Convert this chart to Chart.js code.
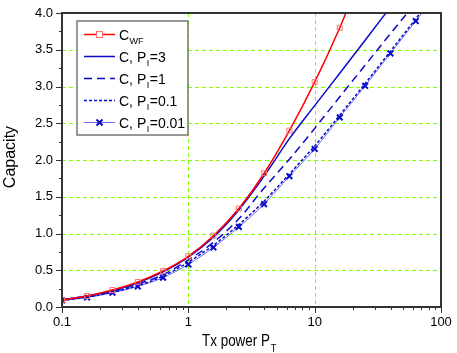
<!DOCTYPE html>
<html>
<head>
<meta charset="utf-8">
<script src="https://cdn.jsdelivr.net/npm/chart.js@4.4.1/dist/chart.umd.min.js"></script>
<style>
  html, body { margin: 0; padding: 0; background: #fff; }
  #wrap { position: relative; width: 457px; height: 353px; }
</style>
</head>
<body>
<div id="wrap"><canvas id="myChart" width="457" height="353"></canvas></div>
<script>
// Potencias de transmisión (eje x, logarítmico)
const txPower = [0.1, 0.158, 0.251, 0.398, 0.631, 1, 1.58, 2.51, 3.98, 6.31, 10, 15.8, 25.1, 39.8, 63.1, 100];

// Capacidades
const capWF   = [0.095, 0.15, 0.23, 0.34, 0.49, 0.69, 0.97, 1.34, 1.82, 2.40, 3.06, 3.80, 4.65];
const capPI3  = [0.10, 0.15, 0.22, 0.33, 0.48, 0.68, 0.95, 1.32, 1.78, 2.29, 2.74, 3.18, 3.63, 4.08];
const capPI1  = [0.095, 0.14, 0.21, 0.31, 0.44, 0.64, 0.88, 1.20, 1.62, 2.01, 2.43, 2.86, 3.29, 3.72, 4.14];
const capPI01 = [0.09, 0.135, 0.20, 0.29, 0.42, 0.61, 0.84, 1.12, 1.44, 1.81, 2.19, 2.61, 3.04, 3.48, 3.92, 4.37];
const capPI001 = [0.09, 0.13, 0.195, 0.28, 0.40, 0.58, 0.81, 1.09, 1.40, 1.78, 2.15, 2.58, 3.01, 3.45, 3.89, 4.33];

// Etiquetas de los ejes
const xTicks = [0.1, 1, 10, 100];
const xTickLabels = ['0.1', '1', '10', '100'];
const yTicks = [0, 0.5, 1, 1.5, 2, 2.5, 3, 3.5, 4];
const yTickLabels = ['0.0', '0.5', '1.0', '1.5', '2.0', '2.5', '3.0', '3.5', '4.0'];
const xGridAt = [1, 10];
const yGridAt = [0.5, 1, 1.5, 2, 2.5, 3, 3.5];

// Leyenda: [texto, subíndice, resto]
const legendNames = [
  ['C', 'WF', ''],
  ['C, P', 'I', '=3'],
  ['C, P', 'I', '=1'],
  ['C, P', 'I', '=0.1'],
  ['C, P', 'I', '=0.01']
];

const FONT = 'Arial, "Liberation Sans", sans-serif';
const GREEN = '#80ff00';
const BLUE = '#0a0ac8';

function pts(values) {
  return values.map((v, i) => ({ x: txPower[i], y: v }));
}

// Dibujar una cruz (marcador x)
function drawCross(ctx, x, y, r) {
  ctx.beginPath();
  ctx.moveTo(x - r, y - r); ctx.lineTo(x + r, y + r);
  ctx.moveTo(x - r, y + r); ctx.lineTo(x + r, y - r);
  ctx.stroke();
}

// Plugin: rejilla, marco, marcas, etiquetas, títulos y leyenda
const framePlugin = {
  id: 'frame',
  beforeDatasetsDraw(chart) {
    const { ctx, chartArea: a, scales } = chart;
    ctx.save();
    ctx.strokeStyle = GREEN;
    ctx.lineWidth = 1;
    ctx.setLineDash([4, 3]);
    xGridAt.forEach(v => {
      const x = Math.round(scales.x.getPixelForValue(v)) + 0.5;
      ctx.beginPath(); ctx.moveTo(x, a.top); ctx.lineTo(x, a.bottom); ctx.stroke();
    });
    yGridAt.forEach(v => {
      const y = Math.round(scales.y.getPixelForValue(v)) + 0.5;
      ctx.beginPath(); ctx.moveTo(a.left, y); ctx.lineTo(a.right, y); ctx.stroke();
    });
    ctx.restore();
  },
  afterDatasetsDraw(chart) {
    const { ctx, chartArea: a, scales } = chart;
    ctx.save();
    // marco
    ctx.strokeStyle = '#333';
    ctx.lineWidth = 2;
    ctx.strokeRect(a.left, a.top, a.right - a.left, a.bottom - a.top);

    // marcas del eje x (mayores y menores)
    ctx.lineWidth = 1;
    for (let d = -1; d < 2; d++) {
      for (let m = 1; m <= 10; m++) {
        const v = m * Math.pow(10, d);
        const x = Math.round(scales.x.getPixelForValue(v)) + 0.5;
        const len = (m === 1 || m === 10) ? 6 : 3;
        ctx.beginPath(); ctx.moveTo(x, a.bottom); ctx.lineTo(x, a.bottom + len); ctx.stroke();
      }
    }
    // marcas del eje y
    for (let v = 0; v <= 4.001; v += 0.25) {
      const y = Math.round(scales.y.getPixelForValue(v)) + 0.5;
      const major = Math.abs(v * 2 - Math.round(v * 2)) < 1e-6;
      ctx.beginPath(); ctx.moveTo(a.left, y); ctx.lineTo(a.left - (major ? 6 : 3), y); ctx.stroke();
    }

    // etiquetas
    ctx.fillStyle = '#000';
    ctx.font = '13px ' + FONT;
    ctx.textAlign = 'center';
    ctx.textBaseline = 'middle';
    xTicks.forEach((v, i) => {
      ctx.fillText(xTickLabels[i], scales.x.getPixelForValue(v), a.bottom + 15);
    });
    ctx.textAlign = 'right';
    yTicks.forEach((v, i) => {
      ctx.fillText(yTickLabels[i], a.left - 9, scales.y.getPixelForValue(v));
    });

    // títulos de los ejes (x con letra estrecha)
    ctx.textAlign = 'left';
    ctx.textBaseline = 'alphabetic';
    ctx.save();
    ctx.translate(202, 346);
    ctx.scale(0.84, 1);
    ctx.font = '16px ' + FONT;
    const t1 = 'Tx power P';
    const w1 = ctx.measureText(t1).width;
    ctx.fillText(t1, 0, 0);
    ctx.font = '11px ' + FONT;
    ctx.fillText('T', w1 + 1, 6);
    ctx.restore();

    ctx.save();
    ctx.translate(15, 157);
    ctx.rotate(-Math.PI / 2);
    ctx.font = '16px ' + FONT;
    ctx.textAlign = 'center';
    ctx.fillText('Capacity', 0, 0);
    ctx.restore();

    // leyenda
    const lx = 77, ly = 21, lw = 111, lh = 114;
    ctx.fillStyle = '#fff';
    ctx.fillRect(lx, ly, lw, lh);
    ctx.strokeStyle = '#777';
    ctx.lineWidth = 1.5;
    ctx.strokeRect(lx, ly, lw, lh);
    chart.data.datasets.forEach((ds, i) => {
      const y = ly + 13.5 + i * 22;
      ctx.strokeStyle = ds.borderColor;
      ctx.lineWidth = ds.borderWidth;
      ctx.setLineDash(ds.borderDash || []);
      ctx.beginPath(); ctx.moveTo(84, y); ctx.lineTo(115, y); ctx.stroke();
      ctx.setLineDash([]);
      if (i === 0) {
        ctx.strokeStyle = '#ff7070'; ctx.lineWidth = 1;
        ctx.fillStyle = '#fff';
        ctx.fillRect(96.5, y - 3, 6, 6);
        ctx.strokeRect(96.5, y - 3, 6, 6);
      }
      if (i === 4) {
        ctx.strokeStyle = BLUE; ctx.lineWidth = 2;
        drawCross(ctx, 99.5, y, 3);
      }
      const n = legendNames[i];
      ctx.fillStyle = '#000';
      ctx.font = '14px ' + FONT;
      ctx.fillText(n[0], 119, y + 5);
      let x = 119 + ctx.measureText(n[0]).width;
      ctx.font = '9px ' + FONT;
      ctx.fillText(n[1], x + 0.5, y + 9);
      x += ctx.measureText(n[1]).width + 1;
      ctx.font = '14px ' + FONT;
      ctx.fillText(n[2], x, y + 5);
    });
    ctx.restore();
  }
};

const ctx = document.getElementById('myChart').getContext('2d');
const chart = new Chart(ctx, {
  type: 'line',
  data: {
    datasets: [
      {
        label: 'C_WF',
        data: pts(capWF),
        borderColor: '#ff0000',
        borderWidth: 1.5,
        pointStyle: 'rect',
        pointRadius: 3.5,
        pointBorderWidth: 1,
        pointBorderColor: '#ff7070',
        pointBackgroundColor: 'rgba(255,255,255,0)'
      },
      {
        label: 'C, PI=3',
        data: pts(capPI3),
        borderColor: BLUE,
        borderWidth: 1.5,
        pointRadius: 0
      },
      {
        label: 'C, PI=1',
        data: pts(capPI1),
        borderColor: BLUE,
        borderWidth: 1.5,
        borderDash: [8, 5],
        pointRadius: 0
      },
      {
        label: 'C, PI=0.1',
        data: pts(capPI01),
        borderColor: BLUE,
        borderWidth: 1.5,
        borderDash: [3, 2],
        pointRadius: 0
      },
      {
        label: 'C, PI=0.01',
        data: pts(capPI001),
        borderColor: '#6a6af0',
        borderWidth: 1,
        pointStyle: 'crossRot',
        pointRadius: 4,
        pointBorderWidth: 2,
        pointBorderColor: BLUE
      }
    ]
  },
  options: {
    responsive: false,
    animation: false,
    devicePixelRatio: 1,
    layout: { padding: { left: 62, top: 13, right: 16, bottom: 46 } },
    elements: { line: { cubicInterpolationMode: 'monotone' } },
    plugins: { legend: { display: false }, tooltip: { enabled: false } },
    scales: {
      x: { type: 'logarithmic', min: 0.1, max: 100, display: false },
      y: { type: 'linear', min: 0, max: 4, display: false }
    }
  },
  plugins: [framePlugin]
});
</script>
</body>
</html>
